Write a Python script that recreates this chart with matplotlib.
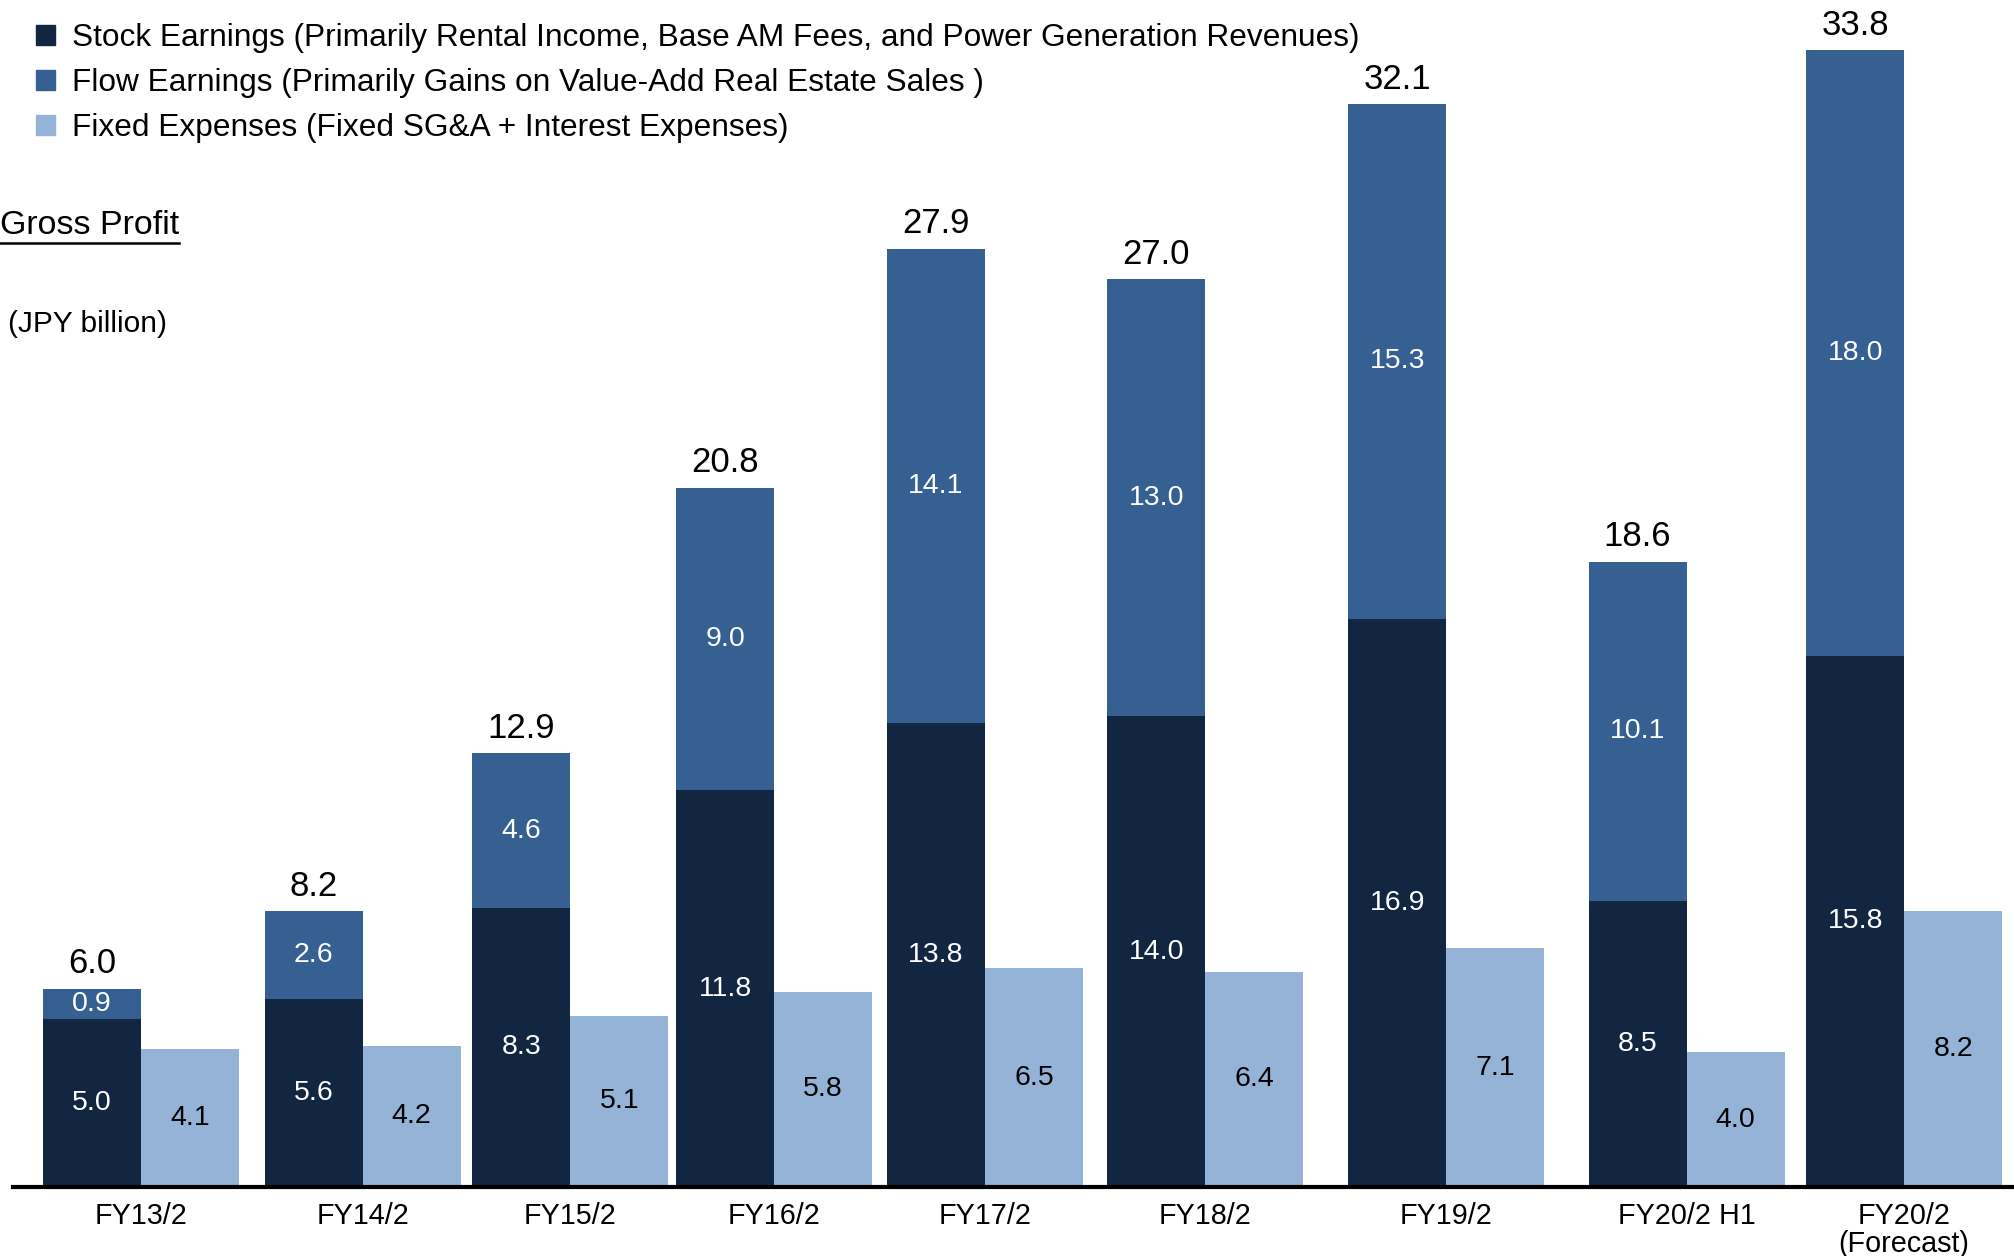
"""
Gross profit breakdown: stock vs flow earnings and fixed expenses.
"""

import matplotlib.pyplot as plt
from matplotlib.patches import Patch

# ---- data (JPY billion) ----
categories = ["FY13/2", "FY14/2", "FY15/2", "FY16/2", "FY17/2", "FY18/2",
              "FY19/2", "FY20/2 H1", "FY20/2\n(Forecast)"]
stock = [5.0, 5.6, 8.3, 11.8, 13.8, 14.0, 16.9, 8.5, 15.8]
flow = [0.9, 2.6, 4.6, 9.0, 14.1, 13.0, 15.3, 10.1, 18.0]
fixed = [4.1, 4.2, 5.1, 5.8, 6.5, 6.4, 7.1, 4.0, 8.2]
gross = [6.0, 8.2, 12.9, 20.8, 27.9, 27.0, 32.1, 18.6, 33.8]

series_labels = [
    "Stock Earnings (Primarily Rental Income, Base AM Fees, and Power Generation Revenues)",
    "Flow Earnings (Primarily Gains on Value-Add Real Estate Sales )",
    "Fixed Expenses (Fixed SG&A + Interest Expenses)",
]

# ---- layout (group centres in bar-width units, irregular like the source) ----
group_x = [1.44, 3.70, 5.82, 7.90, 10.05, 12.30, 14.76, 17.21, 19.43]

C_STOCK = "#132641"
C_FLOW = "#366092"
C_FIXED = "#95B3D7"

plt.rcParams["font.family"] = ["Liberation Sans", "DejaVu Sans"]

W, H = 2015, 1256
fig = plt.figure(figsize=(W / 100, H / 100), dpi=100)
ax = fig.add_axes([13 / W, 69 / H, (W - 13) / W, 1187 / H])

x_stock = [x - 0.5 for x in group_x]
x_fixed = [x + 0.5 for x in group_x]

b1 = ax.bar(x_stock, stock, width=1.0, color=C_STOCK)
b2 = ax.bar(x_stock, flow, width=1.0, bottom=stock, color=C_FLOW)
b3 = ax.bar(x_fixed, fixed, width=1.0, color=C_FIXED)

ax.bar_label(b1, fmt="%.1f", label_type="center", color="white", fontsize=20.5)
ax.bar_label(b2, fmt="%.1f", label_type="center", color="white", fontsize=20.5)
ax.bar_label(b3, fmt="%.1f", label_type="center", color="black", fontsize=20.5)
ax.bar_label(b2, labels=[f"{g:.1f}" for g in gross], padding=6,
             color="black", fontsize=25)

ax.set_xlim(13 / 98, W / 98)
ax.set_ylim(0, 35.3)
for side in ("top", "right", "left"):
    ax.spines[side].set_visible(False)
ax.spines["bottom"].set_linewidth(3)
ax.set_yticks([])
ax.set_xticks(group_x, categories, fontsize=20.7, linespacing=1.0)
ax.tick_params(axis="x", length=0, pad=11)

handles = [Patch(color=c) for c in (C_STOCK, C_FLOW, C_FIXED)]
fig.legend(handles, series_labels, loc="upper left",
           bbox_to_anchor=(36 / W, 1 - 23 / H), frameon=False, fontsize=22.8,
           handlelength=0.6, handleheight=0.6, handletextpad=0.53,
           labelspacing=0.48, borderpad=0, borderaxespad=0)

gp = fig.text(0 / W, 1 - 226 / H, "Gross Profit", fontsize=24.5, va="center")
fig.text(8 / W, 1 - 324 / H, "(JPY billion)", fontsize=21.5, va="center")

# underline "Gross Profit"
fig.canvas.draw()
bb = gp.get_window_extent()
fig.add_artist(plt.Line2D([bb.x0 / W, bb.x1 / W], [(H - 243) / H] * 2,
                          color="black", linewidth=1.8))

fig.savefig("out.png", dpi=100)
